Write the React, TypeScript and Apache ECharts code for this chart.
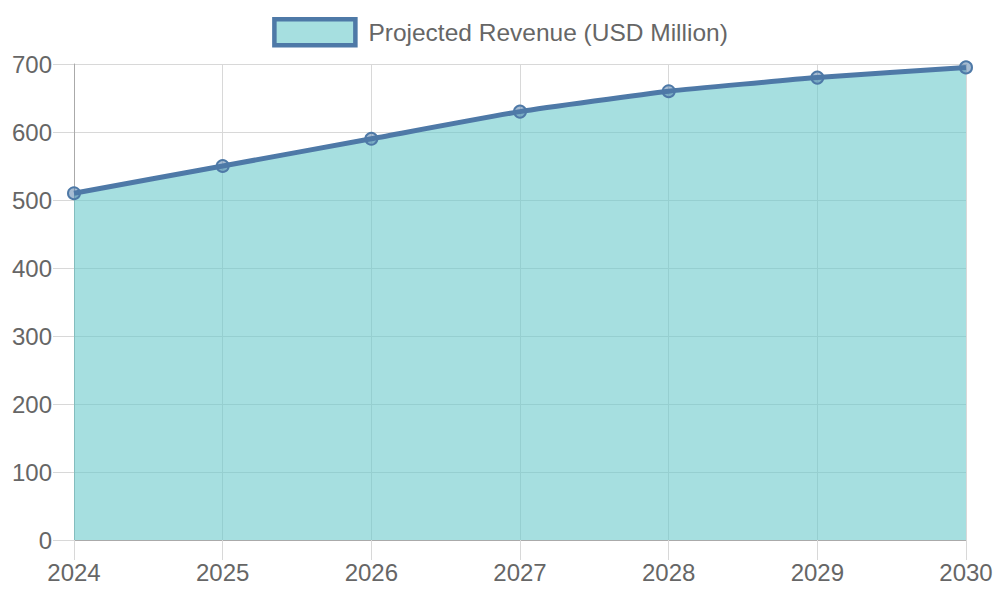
import { useEffect, useRef } from "react";
import * as echarts from "echarts";

const YEARS = ["2024", "2025", "2026", "2027", "2028", "2029", "2030"];
const REVENUE = [510, 550, 590, 630, 660, 680, 695];
const SERIES_NAME = "Projected Revenue (USD Million)";

const LINE = "#4e79a7";
const FILL = "rgba(107,202,203,0.6)";
const GRID_LINE = "#d8d8d8";
const TEXT = "#666";
const FONT = "'Liberation Sans', Arial, Helvetica, sans-serif";

export default function App() {
  const ref = useRef<HTMLDivElement | null>(null);

  useEffect(() => {
    if (!ref.current) return;
    const chart = echarts.init(ref.current, null, { renderer: "svg" });
    chart.setOption({
      animation: false,
      textStyle: { fontFamily: FONT },
      legend: {
        top: 12,
        left: "center",
        itemWidth: 81,
        itemHeight: 26,
        textStyle: { color: TEXT, fontSize: 24.5, fontFamily: FONT, padding: [0, 0, 0, 8] },
        data: [
          {
            name: SERIES_NAME,
            icon: "rect",
            itemStyle: { color: FILL, borderColor: LINE, borderWidth: 4.5 },
          },
        ],
      },
      grid: { left: 74, right: 34, top: 64, bottom: 60 },
      xAxis: {
        type: "category",
        data: YEARS,
        boundaryGap: false,
        axisLine: { show: true, lineStyle: { color: "#aaa", width: 1 } },
        axisTick: { show: true, length: 20, lineStyle: { color: GRID_LINE } },
        axisLabel: { color: TEXT, fontSize: 24, margin: 20, fontFamily: FONT },
        splitLine: { show: true, lineStyle: { color: GRID_LINE, width: 1 } },
      },
      yAxis: {
        type: "value",
        min: 0,
        max: 700,
        interval: 100,
        axisLine: { show: true, lineStyle: { color: "#aaa", width: 1 } },
        axisTick: { show: true, length: 21, lineStyle: { color: GRID_LINE } },
        axisLabel: { color: TEXT, fontSize: 24, margin: 22, fontFamily: FONT },
        splitLine: { show: true, lineStyle: { color: GRID_LINE, width: 1 } },
      },
      series: [
        {
          name: SERIES_NAME,
          type: "line",
          data: REVENUE,
          smooth: 0.15,
          symbol: "circle",
          symbolSize: 12,
          lineStyle: { color: LINE, width: 5 },
          itemStyle: { color: "rgba(78,121,167,0.5)", borderColor: LINE, borderWidth: 2 },
          areaStyle: { color: FILL, opacity: 1, origin: "start" },
        },
      ],
    });
    return () => chart.dispose();
  }, []);

  return (
    <div
      ref={ref}
      style={{ position: "absolute", left: 0, top: 0, width: 1000, height: 600 }}
    />
  );
}
